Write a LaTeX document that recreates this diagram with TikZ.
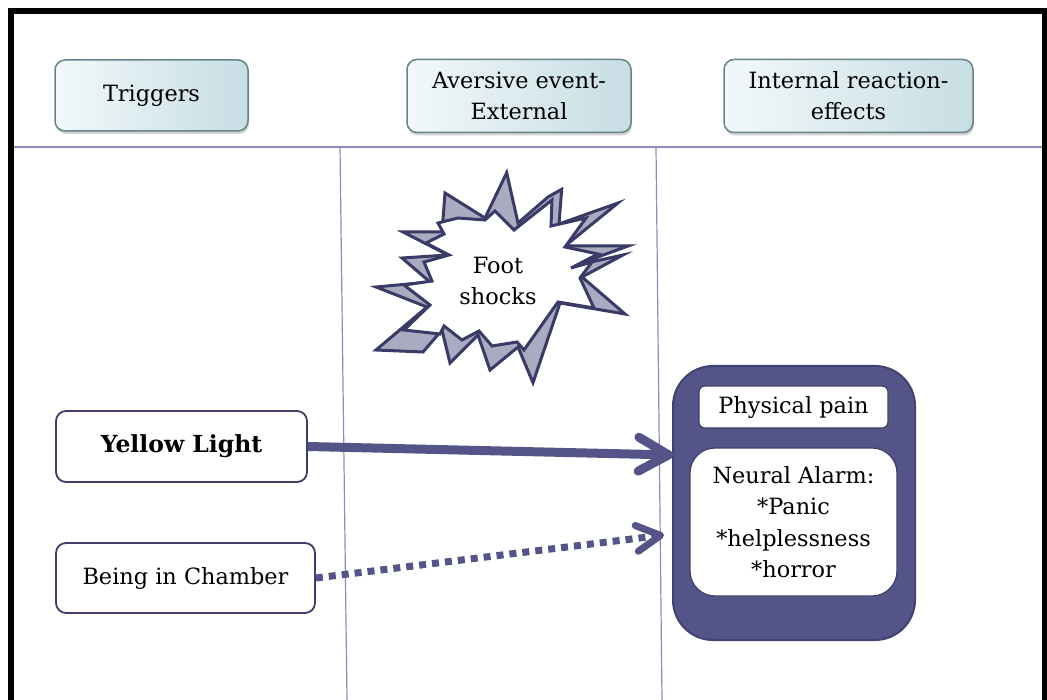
\documentclass[tikz,border=0pt]{standalone}
\usepackage{fontspec}
\setmainfont{DejaVu Serif}
\usetikzlibrary{shadows,arrows.meta}

\definecolor{lane}{RGB}{140,140,190}
\definecolor{navy}{RGB}{62,62,106}
\definecolor{plum}{RGB}{84,84,136}
\definecolor{plumedge}{RGB}{66,66,112}
\definecolor{burstgray}{RGB}{170,171,192}
\definecolor{burstedge}{RGB}{58,58,102}
\definecolor{hdrL}{RGB}{242,248,249}
\definecolor{hdrR}{RGB}{198,222,228}
\definecolor{hdrEdge}{RGB}{102,132,138}

% back face of the explosion (long spikes)
\def\burstback{(506.7,172.7) -- (518,223) -- (548,197) -- (561.7,189.3) -- (559,224)
  -- (618,203) -- (565,246) -- (628,246) -- (573,266) -- (623,255) -- (582,277)
  -- (625,314) -- (560,303) -- (533,382.7) -- (518,347) -- (490,370) -- (478,335)
  -- (450,363) -- (442,330) -- (423,352) -- (376,350) -- (427,307) -- (376,287)
  -- (430,282) -- (402,258) -- (448,255) -- (403,232) -- (442,232) -- (445,193)
  -- (485,218) -- cycle}
% front face of the explosion (short spikes)
\def\burstfront{(495,211) -- (514,230) -- (552,200) -- (551,226)
  -- (586,218) -- (565,247) -- (598,254) -- (571,268) -- (592,262) -- (580,278)
  -- (594,308) -- (558,302) -- (524,350) -- (517,342) -- (492,346) -- (479,331)
  -- (462,340) -- (444,326) -- (440,334) -- (404,330) -- (430,305) -- (404,285)
  -- (432,281) -- (424,262) -- (449,255) -- (426,243) -- (444,234) -- (438,223)
  -- (458,218) -- (485,220) -- cycle}

\begin{document}
\begin{tikzpicture}[x=1pt,y=-1pt,
  txt/.style={font=\fontsize{22.4}{31.3}\selectfont, align=center, inner sep=0pt},
  header/.style={txt, draw=hdrEdge, line width=1.5pt, rounded corners=10pt,
    left color=hdrL, right color=hdrR,
    drop shadow={shadow xshift=1pt, shadow yshift=-3pt, opacity=.35}},
  trigger/.style={txt, draw=navy, line width=1.8pt, rounded corners=10pt, fill=white},
  innerbox/.style={txt, draw=navy, line width=1.2pt, fill=white},
  flow/.style={draw=plum, line width=9pt},
  weakflow/.style={draw=plum, line width=7pt, dash pattern=on 7pt off 6pt},
  burst/.style={draw=burstedge, line width=3pt, line join=miter}]

\useasboundingbox (0,0) rectangle (1047,700);
\clip (0,0) rectangle (1047,700);
\fill[white] (0,0) rectangle (1047,700);

% swim-lane rules
\draw[lane, line width=1.2pt] (14,147) -- (1042,147);
\draw[lane, line width=1.2pt] (340,147) -- (347,700);
\draw[lane, line width=1.2pt] (656,147) -- (662,700);

% frame
\draw[line width=6pt] (11,720) -- (11,11) -- (1044.7,11) -- (1044.7,720);

% column headers
\node[header, minimum width=193pt, minimum height=71pt] (h1) at (151.5,95.5) {Triggers};
\node[header, minimum width=224pt, minimum height=73pt] (h2) at (519,96) {Aversive event-\\External};
\node[header, minimum width=249pt, minimum height=73pt] (h3) at (848.5,96) {Internal reaction-\\effects};

% explosion
\filldraw[burst, fill=burstgray] \burstback;
\filldraw[burst, fill=white] \burstfront;
\node[txt] (shock) at (498,281) {Foot\\shocks};

% triggers
\node[trigger, minimum width=251pt, minimum height=71pt, font=\fontsize{23.5}{31}\selectfont\bfseries] (yl) at (181.5,446.5) {Yellow Light};
\node[trigger, minimum width=259pt, minimum height=70pt] (bc) at (185.5,578) {Being in Chamber};

% internal reaction panel
\node[draw=plumedge, line width=2pt, fill=plum, rounded corners=40pt,
  minimum width=242pt, minimum height=274pt, inner sep=0pt] (react) at (794,503) {};
\node[innerbox, rounded corners=6pt, minimum width=189pt, minimum height=42pt] (pain) at (793.5,407) {Physical pain};
\node[innerbox, rounded corners=25pt, minimum width=207pt, minimum height=148pt] (alarm) at (793.5,522) {Neural Alarm:\\*Panic\\*helplessness\\*horror};

% connectors
\coordinate (hitA) at (673,455);
\coordinate (hitB) at (664,535);
\draw[flow, -{Straight Barb[length=30pt,width=34pt,round]}] (yl.east) -- (hitA);
\draw[weakflow, -{Straight Barb[length=24pt,width=26pt,round]}] (bc.east) -- (hitB);

\end{tikzpicture}
\end{document}
